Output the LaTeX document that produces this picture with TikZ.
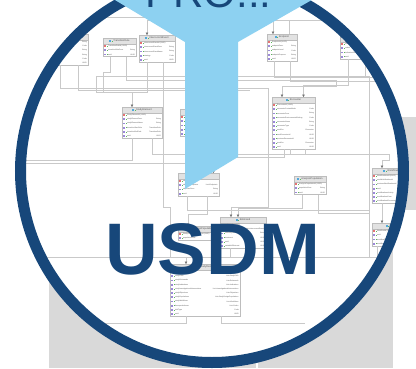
\documentclass[tikz,border=0pt]{standalone}
\usepackage{fontspec}
\setmainfont{Liberation Sans}
\usetikzlibrary{arrows.meta,calc}

\definecolor{ringblue}{HTML}{17477A}
\definecolor{skyblue}{HTML}{8DD1F1}
\definecolor{panelgray}{HTML}{D9D9D9}
\definecolor{linegray}{HTML}{C9C9C9}
\definecolor{framegray}{HTML}{BDBDBD}
\definecolor{hdrgray}{HTML}{E2E2E2}
\definecolor{idred}{HTML}{E57373}
\definecolor{attrpurple}{HTML}{9C89D9}
\definecolor{plusgreen}{HTML}{5DB85C}
\definecolor{iconblue}{HTML}{4FA8DC}
\definecolor{txtgray}{HTML}{555555}

\tikzset{
  clsframe/.style={fill=white, inner sep=0pt, outer sep=0pt},
  hdrtxt/.style={font=\fontsize{2.5}{3}\selectfont, text=txtgray, inner sep=0pt},
  rowtxt/.style={font=\fontsize{1.8}{2.2}\selectfont, text=txtgray, inner sep=0pt},
  conn/.style={draw=linegray, line width=0.45pt},
  tip/.style={conn, arrows={-Triangle[length=2.4pt,width=2.4pt,color=black!55]}},
}

\def\hdrh{6}
\def\rowh{4.2}
\newcommand\hdricon{\textcolor{iconblue}{\rule{1.8pt}{1.8pt}}\kern0.6pt\textcolor{plusgreen}{\rule{0.8pt}{0.8pt}}\kern0.8pt}

% class box: id, x, y, width, title, number of rows, rows (name/type)
\newcommand\classbox[7]{%
  \pgfmathsetmacro\boxh{\hdrh+#6*\rowh}%
  \node[clsframe, minimum width=#4pt, minimum height=\boxh pt, anchor=north west] (#1) at (#2,#3) {};
  \fill[hdrgray] (#1.north west) rectangle ([yshift=-\hdrh pt]#1.north east);
  \draw[framegray, line width=0.3pt] ([yshift=-\hdrh pt]#1.north west) -- ([yshift=-\hdrh pt]#1.north east);
  \draw[framegray, line width=0.3pt] (#1.north west) rectangle (#1.south east);
  \node[hdrtxt] (#1-t) at ([yshift=-0.5*\hdrh pt]#1.north) {\hdricon #5};
  \foreach[count=\k] \rn/\rt in {#7}{%
    \ifnum\k=1 \def\rc{idred}\else\def\rc{attrpurple}\fi
    \pgfmathsetmacro\ry{#3+\hdrh+(\k-0.5)*\rowh}%
    \fill[\rc] (#2+1.2,\ry-0.9) rectangle (#2+2.8,\ry+0.9);
    \fill[plusgreen] (#2+3.5,\ry-0.35) rectangle (#2+4.2,\ry+0.35);
    \node[rowtxt, anchor=west] (#1-n\k) at (#2+5,\ry) {\rn};
    \node[rowtxt, anchor=east] (#1-y\k) at (#2+#4-1,\ry) {\rt};
  }%
}

\begin{document}
\begin{tikzpicture}[x=1pt,y=-1pt]
\useasboundingbox (0,0) rectangle (416,368);
\fill[white] (0,0) rectangle (416,368);
\clip (0,0) rectangle (416,368);

% grey panels behind the badge
\fill[panelgray] (49,225) rectangle (256,368);
\fill[panelgray] (257.5,225) rectangle (393,368);
\fill[panelgray] (300,117) rectangle (416,210);

% badge disc
\fill[white] (212,171) circle (192);

\begin{scope}
\clip (212,171) circle (187);

% ---- classes ----
\classbox{spv}{36}{34}{52}{StudyProtocolVersion}{6}{protocolEffectiveDate/String, protocolStageType/Code, protocolVersion/String, protocolName/String, protocolAmendmentType/Code, uuid/UUID}
\classbox{tr}{103}{38}{33}{TransitionRule}{3}{TransitionRuleId (UUID)/, transitionRuleDesc/String, uuid/UUID}
\classbox{ie}{139}{35}{36}{IntercurrentEvent}{5}{intercurrentEventId (UUID)/, intercurrentEventDesc/String, intercurrentEventName/String, strategy/Code, uuid/UUID}
\classbox{ep}{267}{34}{30}{Endpoint}{5}{EndpointId (UUID)/, endpointDesc/String, endpointLevel/Code, endpointPurpose/String, uuid/UUID}
\classbox{ind}{340}{36}{50}{Indication}{4}{indicationId (UUID)/, codes/List<Code>, indicationDesc/String, uuid/UUID}
\classbox{se}{122}{107}{40}{StudyElement}{6}{StudyElementId (UUID)/, studyElementDesc/String, studyElementName/String, transitionStartRule/TransitionRule, transitionEndRule/TransitionRule, uuid/UUID}
\classbox{act}{180}{109}{45}{Activity}{5}{activityId (UUID)/, activityDesc/String, activityName/String, definedProcedures/List<Procedure>, uuid/UUID}
\classbox{enc}{272}{97}{43}{Encounter}{11}{EncounterId (UUID)/, encounterContactMode/Code, encounterDesc/String, encounterEnvironmentalSetting/Code, encounterName/String, encounterType/Code, nextEnc/Encounter, nextEncounterId/UUID, previousEncounterId/UUID, prevEnc/Encounter, uuid/UUID}
\classbox{obj}{178}{173}{41}{Objective}{4}{objectiveId (UUID)/, objectiveEndpoints/List<Endpoint>, objectiveDesc/String, uuid/UUID}
\classbox{ap}{294}{176}{32}{AnalysisPopulation}{3}{AnalysisPopulationId (UUID)/, populationDesc/String, uuid/UUID}
\classbox{wfi}{372}{168}{42}{WorkflowItem}{7}{WorkflowItemId (UUID)/, nextWorkflowItemId/UUID, previousWorkflowItemId/UUID, uuid/UUID, workflowItemActivity/Activity, workflowItemDesc/String, workflowItemEncounter/Encounter}
\classbox{wf}{372}{223}{42}{Workflow}{4}{WorkflowId (UUID)/, uuid/UUID, workflowDesc/String, workflowItems/List<WorkflowItem>}
\classbox{est}{220}{217}{46}{Estimand}{6}{estimandId (UUID)/, intercurrentEvents/List<IntercurrentEvent>, summaryMeasure/String, treatment/UUID, uuid/UUID, variableOfInterest/UUID}
\classbox{sdp}{178}{226}{40}{StudyDesignPopulation}{2}{StudyDesignPopulationId (UUID)/, populationDesc/String}
\classbox{sd}{170}{264}{70}{StudyDesign}{11}{interventionModel/Code, studyCells/List<StudyCell>, studyEstimands/List<Estimand>, studyIndications/List<Indication>, studyInvestigationalInterventions/List<InvestigationalIntervention>, studyObjectives/List<Objective>, studyPopulations/List<StudyDesignPopulation>, studyWorkflows/List<Workflow>, therapeuticAreas/List<Code>, trialType/Code, uuid/UUID}

% ---- loose ends of the relation lines ----
\coordinate (topL) at (85,17);
\coordinate (topR) at (330,20);
\coordinate (busR) at (410,77);
\coordinate (busR2) at (410,81);
\coordinate (midL) at (20,160);
\coordinate (midL2) at (20,163);
\coordinate (lowL) at (30,257);
\coordinate (baseL) at (95,323);
\coordinate (baseR) at (305,323);
\coordinate (stubA) at (250,90);
\coordinate (rbA) at (369,213);
\coordinate (rbB) at (369,210);
\coordinate (rbC) at (369,257);

% ---- relations ----
\draw[tip] (topL) -| ([xshift=-9]ep.north);
\draw[tip] (topR) -| ([xshift=-10]ie.north);
\draw[conn] ([xshift=7]ep.north) |- (topR);
\draw[tip] ([xshift=-9]tr.south) |- (103,72) |- (132,92) -- ([xshift=-10]se.north);
\draw[tip] ([xshift=7]tr.south) |- (336,80) -- (336,86) -| ([xshift=-11.5]enc.north);
\draw[conn] ([xshift=-10]ie.south) |- (96,92) |- (369,76) -- (rbC) -- (lowL);
\draw[tip] ([xshift=6]ie.south) -- (163,207) -| (170,257) -| ([xshift=-19]sd.north);
\draw[conn] ([xshift=-8]ep.south) |- (busR);
\draw[conn] ([xshift=8]ep.south) |- (busR2);
\draw[tip] ([xshift=-17]ind.south) -- ++(0,26) -| ([xshift=10]enc.north);
\draw[conn] (ind.south) |- (busR);
\draw[tip] ([xshift=-2]spv.south) |- (268,88) |- (231,207) -- ([xshift=-12]est.north);
\draw[conn] ([xshift=16]spv.south) |- (stubA);
\draw[conn] ([xshift=-10]se.south) |- (midL);
\draw[tip] ([xshift=10]se.south) |- (389,154) -- (389,160) -| ([xshift=-11]wfi.north);
\draw[tip] (midL2) -| ([xshift=-10]obj.north);
\draw[tip] ([xshift=-9]enc.south) -- ++(0,8) -| ([xshift=15]obj.north);
\draw[conn] ([xshift=11.5]enc.south) -- ++(0,5) -| ([xshift=-3]enc.south);
\draw[conn] ([xshift=-11]obj.south) |- (rbB);
\draw[tip] ([xshift=9]obj.south) -- ++(0,18) -| ([xshift=-10]sdp.north);
\draw[tip] ([xshift=-8]ap.south) -- ++(0,14) -| ([xshift=-5]est.north);
\draw[conn] ([xshift=8]ap.south) |- (rbA);
\draw[tip] ([xshift=-11]wfi.south) -- ([xshift=-11]wf.north);
\draw[conn] ([xshift=-13]est.south) |- (rbC);
\draw[conn] ([xshift=-16]wf.south) |- (rbC);
\draw[conn] ([xshift=-19]sd.south) |- (baseL);
\draw[conn] ([xshift=16]sd.south) |- (baseR);
\end{scope}

% badge ring
\draw[ringblue, line width=11pt] (212,171) circle (191.5);

% funnel shape
\fill[skyblue] (110,-3) -- (317,-3) -- (238,42) -- (238,157) -- (185,189) -- (185,42) -- cycle;

% titles
\node[font=\fontsize{42}{42}\selectfont, text=ringblue, anchor=base, inner sep=0pt] (pro) at (208.5,7.5) {PRO...};
\node[font=\fontsize{73}{73}\selectfont\bfseries, text=ringblue, anchor=base, inner sep=0pt] (usdm) at (212.5,274) {USDM};
\end{tikzpicture}
\end{document}
